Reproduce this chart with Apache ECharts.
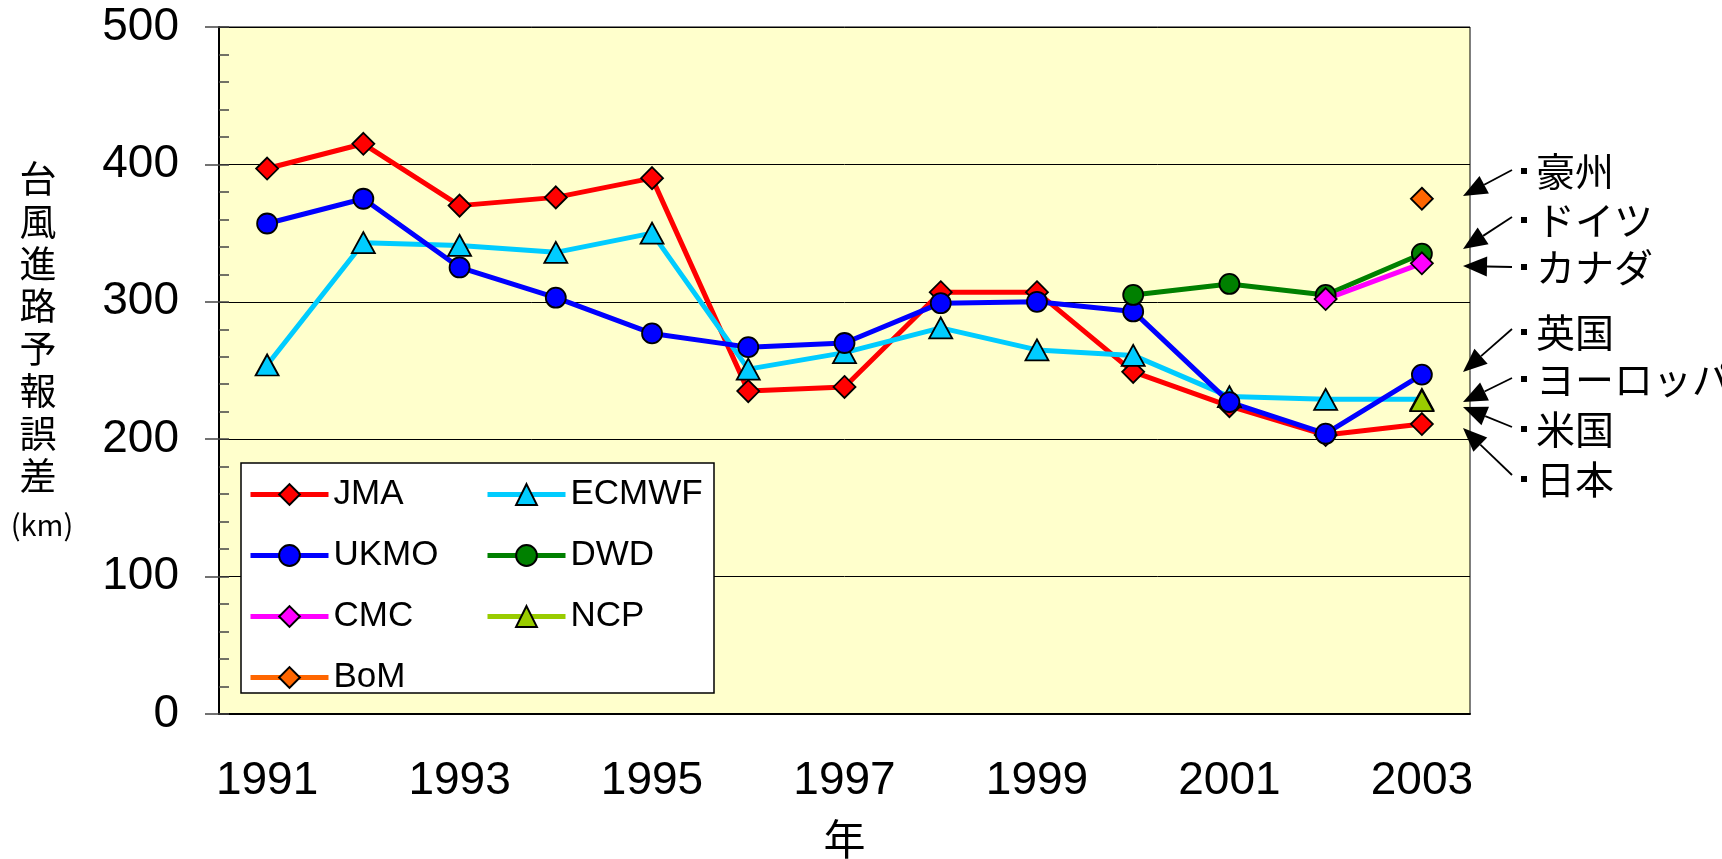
<!DOCTYPE html>
<html>
<head>
<meta charset="utf-8">
<title>台風進路予報誤差</title>
<script src="https://cdn.jsdelivr.net/npm/echarts@6/dist/echarts.min.js"></script>
<style>
  html, body { margin: 0; padding: 0; background: #fff; }
  #chartmain { width: 1722px; height: 859px; }
</style>
</head>
<body>
<div id="chartmain"></div>
<script>
// 年
var years = ['1991', '1992', '1993', '1994', '1995', '1996', '1997', '1998', '1999', '2000', '2001', '2002', '2003'];
// 各センターの誤差(km)
var jma   = [397, 415, 370, 376, 390, 235, 238, 307, 307, 249, 224, 203, 211];
var ecmwf = [254, 343, 341, 336, 350, 251, 263, 281, 265, 261, 231, 229, 229];
var ukmo  = [357, 375, 325, 303, 277, 267, 270, 299, 300, 293, 227, 204, 247];
var dwd   = [null, null, null, null, null, null, null, null, null, 305, 313, 305, 335];
var cmc   = [null, null, null, null, null, null, null, null, null, null, null, 302, 328];
var ncp   = [null, null, null, null, null, null, null, null, null, null, null, null, 228];
var bom   = [null, null, null, null, null, null, null, null, null, null, null, null, 375];
var yTicks = [0, 100, 200, 300, 400, 500];
// 右側の注記
var notes = ['豪州', 'ドイツ', 'カナダ', '英国', 'ヨーロッパ', '米国', '日本'];

var font = '"Liberation Sans", Arial, sans-serif';
var jpFont = '"Noto Sans CJK JP", sans-serif';

function mk(name, data, color, symbol, size) {
    return {
        name: name,
        type: 'line',
        data: data,
        symbol: symbol,
        symbolSize: size,
        showAllSymbol: true,
        lineStyle: { color: color, width: 5 },
        itemStyle: { color: color, borderColor: '#000', borderWidth: 1.8 },
        emphasis: { disabled: true }
    };
}

// 矢印 (注記 -> グラフ)
function arrow(x1, y1, x2, y2) {
    var dx = x2 - x1, dy = y2 - y1;
    var len = Math.sqrt(dx * dx + dy * dy);
    var ux = dx / len, uy = dy / len;
    var L = 24, W = 10;
    var bx = x2 - ux * L, by = y2 - uy * L;
    return [
        { type: 'line', shape: { x1: x1, y1: y1, x2: bx, y2: by }, style: { stroke: '#000', lineWidth: 1.8 }, z: 5 },
        { type: 'polygon', shape: { points: [[x2, y2], [bx - uy * W, by + ux * W], [bx + uy * W, by - ux * W]] }, style: { fill: '#000' }, z: 5 }
    ];
}

var noteY = [171, 220, 267, 332, 379, 429, 479];
var arrows = [
    [1512, 170, 1463, 196],
    [1512, 217, 1463, 249],
    [1512, 267, 1463, 266],
    [1512, 329, 1463, 372],
    [1512, 378, 1463, 402],
    [1512, 427, 1463, 407],
    [1512, 475, 1463, 428]
];

var graphics = [
    { type: 'rect', shape: { x: 241, y: 463, width: 473, height: 230 }, style: { fill: '#fff', stroke: '#000', lineWidth: 1.5 }, z: 3 },
    { type: 'text', x: 38, y: 158, style: { text: '台\n風\n進\n路\n予\n報\n誤\n差', font: '37px ' + jpFont, lineHeight: 42.4, align: 'center', fill: '#000' }, z: 5 },
    { type: 'text', x: 42, y: 525, style: { text: '(km)', font: '29px ' + jpFont, align: 'center', verticalAlign: 'middle', fill: '#000' }, z: 5 }
];
for (var i = 0; i < notes.length; i++) {
    graphics.push({ type: 'rect', shape: { x: 1521, y: noteY[i] - 3, width: 6, height: 6 }, style: { fill: '#000' }, z: 5 });
    graphics.push({ type: 'text', x: 1536, y: noteY[i], style: { text: notes[i], font: '39px ' + jpFont, verticalAlign: 'middle', fill: '#000' }, z: 5 });
    graphics = graphics.concat(arrow(arrows[i][0], arrows[i][1], arrows[i][2], arrows[i][3]));
}

var legendBase = {
    orient: 'vertical',
    top: 477,
    padding: 0,
    itemWidth: 78,
    itemHeight: 26,
    itemGap: 26,
    selectedMode: false,
    lineStyle: { width: 5 },
    textStyle: { fontFamily: font, fontSize: 35, lineHeight: 30, color: '#000' },
    z: 6
};

var myChart = echarts.init(document.getElementById('chartmain'));
var options = {
    animation: false,
    backgroundColor: '#fff',
    grid: {
        left: 219, right: 252, top: 27, bottom: 145,
        outerBoundsMode: 'none',
        containLabel: false,
        show: true, backgroundColor: '#FFFFCC', borderColor: '#000', borderWidth: 1
    },
    legend: [
        Object.assign({}, legendBase, { left: 248, data: ['JMA', 'UKMO', 'CMC', 'BoM'] }),
        Object.assign({}, legendBase, { left: 485, data: ['ECMWF', 'DWD', 'NCP'] })
    ],
    xAxis: {
        type: 'category',
        data: years,
        name: '年',
        nameLocation: 'middle',
        nameGap: 104,
        nameTextStyle: { fontFamily: jpFont, fontSize: 42, color: '#000' },
        axisLine: { lineStyle: { color: '#000', width: 2 } },
        axisTick: { inside: true, length: 14, interval: 0, lineStyle: { color: '#444', width: 1.5 } },
        axisLabel: { interval: 1, margin: 44, fontFamily: font, fontSize: 46, color: '#000' },
        splitLine: { show: false }
    },
    yAxis: [{
        type: 'value',
        min: yTicks[0],
        max: yTicks[yTicks.length - 1],
        interval: 100,
        axisLine: { show: true, lineStyle: { color: '#000', width: 2 } },
        axisTick: { show: true, length: 14, lineStyle: { color: '#444', width: 1.5 } },
        axisLabel: { margin: 40, fontFamily: font, fontSize: 46, color: '#000' },
        splitLine: { show: true, lineStyle: { color: '#000', width: 1 } }
    }, {
        type: 'value',
        position: 'left',
        min: 0,
        max: 500,
        interval: 20,
        axisLine: { show: false },
        axisTick: { show: true, inside: true, length: 10, lineStyle: { color: '#444', width: 1.5 } },
        axisLabel: { show: false },
        splitLine: { show: false }
    }],
    series: [
        mk('JMA', jma, '#FF0000', 'diamond', 22),
        mk('ECMWF', ecmwf, '#00CCFF', 'triangle', [23, 21]),
        mk('UKMO', ukmo, '#0000FF', 'circle', 20),
        mk('DWD', dwd, '#008000', 'circle', 20),
        mk('CMC', cmc, '#FF00FF', 'diamond', 22),
        mk('NCP', ncp, '#99CC00', 'triangle', [23, 21]),
        mk('BoM', bom, '#FF6600', 'diamond', 22)
    ],
    graphic: graphics
};
myChart.setOption(options);
</script>
</body>
</html>
